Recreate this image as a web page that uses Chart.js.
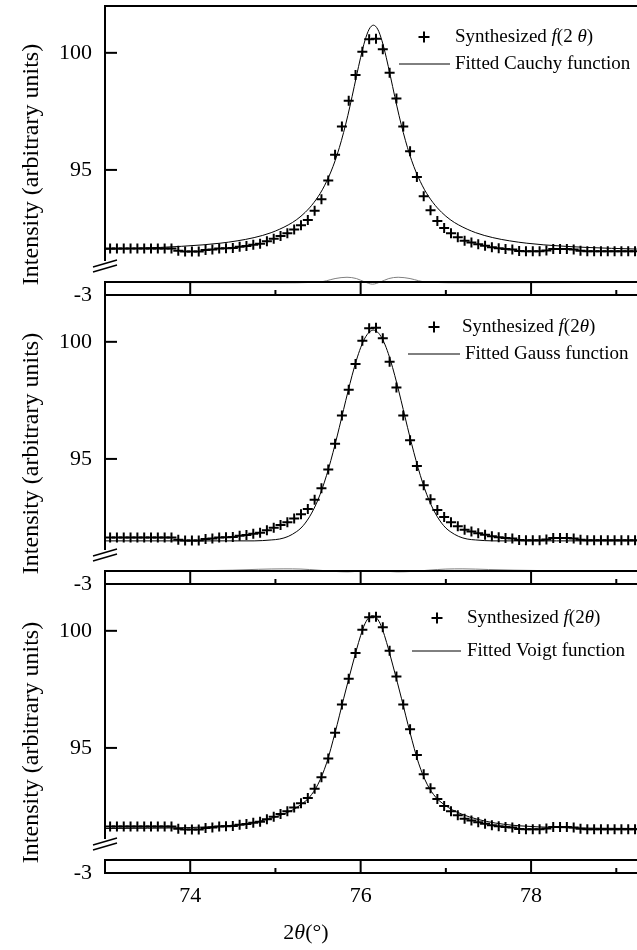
<!DOCTYPE html>
<html><head><meta charset="utf-8">
<script src="https://cdn.jsdelivr.net/npm/chart.js@4.4.1/dist/chart.umd.min.js"></script>
<style>html,body{margin:0;padding:0;background:#fff;}canvas{display:block;}</style>
</head><body><canvas id="c" width="637" height="950"></canvas>
<script>
// ---------- data ----------
const synthX = [73.06,73.14,73.22,73.30,73.38,73.46,73.54,73.62,73.70,73.78,73.86,73.94,74.02,74.10,74.18,74.26,74.34,74.42,74.50,74.58,74.66,74.74,74.82,74.90,74.98,75.06,75.14,75.22,75.30,75.38,75.46,75.54,75.62,75.70,75.78,75.86,75.94,76.02,76.10,76.18,76.26,76.34,76.42,76.50,76.58,76.66,76.74,76.82,76.90,76.98,77.06,77.14,77.22,77.30,77.38,77.46,77.54,77.62,77.70,77.78,77.86,77.94,78.02,78.10,78.18,78.26,78.34,78.42,78.50,78.58,78.66,78.74,78.82,78.90,78.98,79.06,79.14,79.22];
const synthY = [91.64,91.64,91.64,91.64,91.64,91.64,91.64,91.64,91.64,91.64,91.55,91.52,91.52,91.52,91.58,91.60,91.64,91.65,91.67,91.72,91.75,91.80,91.85,91.95,92.06,92.18,92.30,92.46,92.64,92.86,93.26,93.75,94.55,95.65,96.85,97.95,99.05,100.05,100.58,100.60,100.15,99.15,98.05,96.85,95.80,94.70,93.88,93.28,92.82,92.52,92.30,92.13,91.98,91.90,91.83,91.76,91.70,91.65,91.62,91.60,91.54,91.53,91.53,91.53,91.56,91.62,91.62,91.62,91.60,91.55,91.53,91.53,91.53,91.53,91.53,91.53,91.53,91.53];

const cauchyX = [73.0,73.65,74.15,74.35,74.55,74.75,74.95,75.15,75.25,75.35,75.45,75.55,75.65,75.70,75.75,75.80,75.85,75.90,75.95,76.00,76.05,76.10,76.15,76.20,76.25,76.30,76.35,76.40,76.45,76.50,76.55,76.60,76.65,76.75,76.85,76.95,77.05,77.15,77.35,77.55,77.75,77.95,78.15,78.65,79.24];
const cauchyY = [91.61,91.69,91.80,91.87,91.97,92.11,92.32,92.65,92.88,93.19,93.60,94.15,94.91,95.39,95.95,96.60,97.33,98.14,98.99,99.81,100.52,101.01,101.18,101.01,100.52,99.81,98.99,98.14,97.33,96.60,95.95,95.39,94.91,94.15,93.60,93.19,92.88,92.65,92.32,92.11,91.97,91.87,91.80,91.69,91.62];

const gaussX = [73.0,74.0,74.55,74.75,74.95,75.05,75.15,75.25,75.30,75.35,75.40,75.45,75.50,75.55,75.60,75.65,75.70,75.75,75.80,75.85,75.90,75.95,76.00,76.05,76.10,76.15,76.20,76.25,76.30,76.35,76.40,76.45,76.50,76.55,76.60,76.65,76.70,76.75,76.80,76.85,76.90,76.95,77.00,77.05,77.15,77.25,77.35,77.55,78.3,79.24];
const gaussY = [91.5,91.5,91.5,91.5,91.54,91.58,91.69,91.90,92.05,92.26,92.53,92.86,93.26,93.74,94.30,94.93,95.62,96.35,97.11,97.86,98.57,99.21,99.75,100.16,100.41,100.5,100.41,100.16,99.75,99.21,98.57,97.86,97.11,96.35,95.62,94.93,94.30,93.74,93.26,92.86,92.53,92.26,92.05,91.90,91.69,91.58,91.54,91.5,91.5,91.5];

const voigtX = [73.0,73.5,74.0,74.4,74.6,74.8,75.0,75.2,75.3,75.4,75.5,75.6,75.7,75.8,75.9,76.0,76.05,76.1,76.14,76.18,76.23,76.28,76.38,76.48,76.58,76.68,76.78,76.88,76.98,77.08,77.28,77.48,77.68,77.88,78.3,78.8,79.24];
const voigtY = [91.56,91.57,91.6,91.67,91.74,91.86,92.05,92.35,92.58,92.9,93.45,94.35,95.65,97.1,98.5,99.8,100.3,100.58,100.65,100.58,100.3,99.8,98.5,97.1,95.65,94.35,93.45,92.9,92.58,92.35,92.05,91.86,91.74,91.67,91.6,91.57,91.56];

const res1X = [73.0,74.0,75.0,75.5,75.6,75.7,75.84,75.95,76.05,76.14,76.23,76.33,76.44,76.58,76.68,76.78,77.3,78.3,79.24];
const res1Y = [-0.05,-0.15,-0.2,-0.05,0.3,0.8,1.1,0.8,0.0,-0.5,0.0,0.8,1.1,0.8,0.3,-0.05,-0.2,-0.15,-0.05];
const res2X = [73.0,74.0,74.5,74.8,75.1,75.3,75.5,75.7,75.85,76.0,76.14,76.28,76.43,76.6,76.8,77.0,77.2,77.5,77.8,78.3,79.24];
const res2Y = [0.0,0.05,0.2,0.4,0.5,0.45,0.2,-0.1,-0.2,0.0,0.1,0.0,-0.2,-0.1,0.2,0.45,0.5,0.35,0.2,0.05,0.0];
const res3X = [73.0,74.5,75.3,75.6,75.9,76.14,76.4,76.7,77.0,77.8,79.24];
const res3Y = [0.0,0.02,0.08,-0.05,0.05,0.0,0.05,-0.05,0.08,0.02,0.0];

const xMajorTicks = [74, 76, 78];
const xMinorTicks = [75, 77, 79];
const mainTicks = [95, 100];
const resTicks = [-3];
const fitNames = ['Fitted Cauchy function', 'Fitted Gauss function', 'Fitted Voigt function'];
const yTitle = 'Intensity (arbitrary units)';

// ---------- helpers ----------
const pts = (xs, ys) => xs.map((x, i) => ({x, y: ys[i]}));
const FONT = "'Liberation Serif', 'Times New Roman', serif";
Chart.defaults.font.family = FONT;
Chart.defaults.color = '#000';

function mainScale(w) {
  return {
    type: 'linear', position: 'left', stack: 'v', stackWeight: 265.2, weight: w,
    min: 90.675, max: 102.0,
    grid: {display: false, drawTicks: false}, border: {display: false},
    ticks: {padding: 13, font: {size: 22}, color: '#000', callback: v => String(v)},
    afterBuildTicks: s => { s.ticks = mainTicks.map(v => ({value: v})); },
    afterFit: s => { s.width = 105; s.paddingTop = 0; s.paddingBottom = 0; }
  };
}
function resScale(w) {
  return {
    type: 'linear', position: 'left', stack: 'v', stackWeight: 23.8, weight: w,
    min: -3, max: 2.5,
    grid: {display: false, drawTicks: false}, border: {display: false},
    ticks: {padding: 13, font: {size: 22}, color: '#000', callback: v => String(v)},
    afterBuildTicks: s => { s.ticks = resTicks.map(v => ({value: v})); },
    afterFit: s => { s.width = 105; s.paddingTop = 0; s.paddingBottom = 0; }
  };
}

const MR = 5, MW = 2, LR = 5.5;
const fits = [pts(cauchyX, cauchyY), pts(gaussX, gaussY), pts(voigtX, voigtY)];
const resids = [pts(res1X, res1Y), pts(res2X, res2Y), pts(res3X, res3Y)];
const datasets = [];
for (let i = 0; i < 3; i++) {
  datasets.push({data: pts(synthX, synthY), yAxisID: 'm' + (i + 1), showLine: false,
    pointStyle: 'cross', pointRadius: MR, pointBorderWidth: MW, borderColor: '#000', backgroundColor: '#000'});
  datasets.push({data: fits[i], yAxisID: 'm' + (i + 1), showLine: true, pointRadius: 0,
    borderColor: '#000', borderWidth: 1, cubicInterpolationMode: 'monotone'});
  datasets.push({data: resids[i], yAxisID: 'r' + (i + 1), showLine: true, pointRadius: 0,
    borderColor: '#808080', borderWidth: 1, cubicInterpolationMode: 'monotone'});
}

// legend placement (layout only)
const legendPos = [
  {plusX: 424, t1X: 455, t2X: 455, l1: 399, l2: 450, dy1: 31, dy2: 58, gap: true},
  {plusX: 434, t1X: 462, t2X: 465, l1: 408, l2: 460, dy1: 32, dy2: 59, gap: false},
  {plusX: 437, t1X: 467, t2X: 467, l1: 412, l2: 461, dy1: 34, dy2: 67, gap: false}
];

function rich(ctx, parts, x, y, size) {
  let cx = x;
  parts.forEach(p => {
    ctx.font = (p.it ? 'italic ' : '') + size + 'px ' + FONT;
    ctx.fillText(p.t, cx, y);
    cx += ctx.measureText(p.t).width;
  });
  return cx - x;
}
function line(ctx, x1, y1, x2, y2) {
  ctx.beginPath(); ctx.moveTo(x1, y1); ctx.lineTo(x2, y2); ctx.stroke();
}

const decor = {
  id: 'decor',
  afterDraw(chart) {
    const ctx = chart.ctx, xs = chart.scales.x, area = chart.chartArea;
    const L = area.left, R = chart.width;
    ctx.save();
    ctx.strokeStyle = '#000'; ctx.fillStyle = '#000';
    for (let i = 0; i < 3; i++) {
      const m = chart.scales['m' + (i + 1)], r = chart.scales['r' + (i + 1)];
      const yTop = m.top;
      const yBrk = m.getPixelForValue(90.9);
      const y0 = r.getPixelForValue(0), yB = r.getPixelForValue(-3);
      ctx.lineWidth = 2;
      line(ctx, L - 1, yTop, R, yTop);
      line(ctx, L, yTop, L, yBrk - 5);
      line(ctx, L - 1, y0, R, y0);
      line(ctx, L - 1, yB, R, yB);
      line(ctx, L, y0, L, yB);
      mainTicks.forEach(v => { const y = m.getPixelForValue(v); line(ctx, L, y, L + 12, y); });
      line(ctx, L, yB, L + 12, yB);
      xMajorTicks.forEach(v => { const x = xs.getPixelForValue(v); line(ctx, x, yB, x, y0); });
      xMinorTicks.forEach(v => { const x = xs.getPixelForValue(v); line(ctx, x, yB, x, yB - 5); });
      // break marks
      ctx.lineWidth = 1.5;
      line(ctx, L - 12, yBrk + 1, L + 12, yBrk - 6);
      line(ctx, L - 12, yBrk + 6, L + 12, yBrk - 1);
      // legend
      const lp = legendPos[i];
      const ly1 = yTop + lp.dy1, ly2 = yTop + lp.dy2;
      ctx.lineWidth = MW;
      line(ctx, lp.plusX - LR, ly1, lp.plusX + LR, ly1);
      line(ctx, lp.plusX, ly1 - LR, lp.plusX, ly1 + LR);
      ctx.lineWidth = 1;
      line(ctx, lp.l1, ly2, lp.l2, ly2);
      ctx.textBaseline = 'middle'; ctx.textAlign = 'left';
      rich(ctx, [{t: 'Synthesized '}, {t: 'f', it: true}, {t: lp.gap ? '(2 ' : '(2'}, {t: 'θ', it: true}, {t: ')'}], lp.t1X, ly1, 19);
      rich(ctx, [{t: fitNames[i]}], lp.t2X, ly2, 19);
      // y title
      ctx.save();
      ctx.translate(32, (yTop + yB) / 2 + 14);
      ctx.rotate(-Math.PI / 2);
      ctx.textAlign = 'center';
      ctx.font = '24px ' + FONT;
      ctx.fillText(yTitle, 0, 0);
      ctx.restore();
    }
    // x title
    ctx.textBaseline = 'middle'; ctx.textAlign = 'left';
    const parts = [{t: '2'}, {t: 'θ', it: true}, {t: '(°)'}];
    let w = 0;
    parts.forEach(p => { ctx.font = (p.it ? 'italic ' : '') + '22px ' + FONT; w += ctx.measureText(p.t).width; });
    rich(ctx, parts, 306 - w / 2, 933, 22);
    ctx.restore();
  }
};

new Chart(document.getElementById('c'), {
  type: 'scatter',
  data: {datasets},
  options: {
    responsive: false, animation: false, devicePixelRatio: 1,
    layout: {autoPadding: false, padding: {top: 6, left: 0, right: 0, bottom: 0}},
    plugins: {legend: {display: false}, tooltip: {enabled: false}},
    scales: {
      x: {
        type: 'linear', position: 'bottom', min: 73.0, max: 79.243,
        grid: {display: false, drawTicks: false}, border: {display: false},
        ticks: {padding: 10, font: {size: 22}, color: '#000', maxRotation: 0, autoSkip: false,
          callback: v => String(v)},
        afterBuildTicks: s => { s.ticks = xMajorTicks.map(v => ({value: v})); },
        afterFit: s => { s.height = 77; s.paddingLeft = 0; s.paddingRight = 0; }
      },
      m1: mainScale(6), r1: resScale(5),
      m2: mainScale(4), r2: resScale(3),
      m3: mainScale(2), r3: resScale(1)
    }
  },
  plugins: [decor]
});
</script>
</body></html>
